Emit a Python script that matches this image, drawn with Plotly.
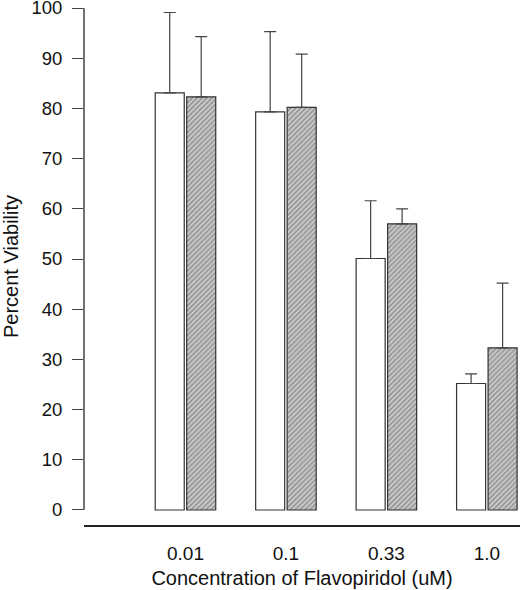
import plotly.graph_objects as go

# concentrations of flavopiridol (uM)
concentrations = ['0.01', '0.1', '0.33', '1.0']
positions = [0, 1, 2, 3]

# open bars
open_viability = [83.1, 79.3, 50.1, 25.2]
open_err = [16.0, 16.0, 11.5, 1.9]

# hatched bars
hatched_viability = [82.3, 80.2, 57.0, 32.3]
hatched_err = [12.0, 10.6, 3.0, 12.9]

y_ticks = [0, 10, 20, 30, 40, 50, 60, 70, 80, 90, 100]

edge = '#333333'
font_family = 'Liberation Sans, Arial, sans-serif'

fig = go.Figure()

fig.add_trace(go.Bar(
    x=positions,
    y=open_viability,
    marker=dict(color='white', line=dict(color=edge, width=1.2)),
    error_y=dict(type='data', symmetric=False, array=open_err,
                 arrayminus=[0] * len(open_err),
                 color='#444444', thickness=1.2, width=6),
    showlegend=False,
))

fig.add_trace(go.Bar(
    x=positions,
    y=hatched_viability,
    marker=dict(color='#cccccc', line=dict(color=edge, width=1.2),
                pattern=dict(shape='/', fgcolor='#555555', bgcolor='#cccccc',
                             size=3.5, solidity=0.45)),
    error_y=dict(type='data', symmetric=False, array=hatched_err,
                 arrayminus=[0] * len(hatched_err),
                 color='#444444', thickness=1.2, width=6),
    showlegend=False,
))

# y axis line only runs from 0 to 100
fig.add_shape(type='line', xref='paper', yref='y', x0=0, x1=0, y0=0, y1=100,
              line=dict(color='#444444', width=1.5))

fig.update_layout(
    width=520,
    height=590,
    margin=dict(l=84, r=0, t=8, b=65),
    template='plotly_white',
    plot_bgcolor='white',
    paper_bgcolor='white',
    font=dict(family=font_family, size=16.5, color='#111111'),
    barmode='group',
    bargap=0.373,
    bargroupgap=0.078,
    xaxis=dict(
        range=[-1.01, 3.33],
        tickvals=positions,
        ticktext=concentrations,
        tickfont=dict(family=font_family, size=19),
        showgrid=False,
        zeroline=False,
        showline=True,
        linecolor='#222222',
        linewidth=2,
        ticks='',
        ticklabelstandoff=10,
        automargin=False,
        title=dict(text='Concentration of Flavopiridol (uM)', standoff=8),
    ),
    yaxis=dict(
        range=[-2.99, 100],
        tickvals=y_ticks,
        tickfont=dict(family=font_family, size=18.5),
        ticklabeloverflow='allow',
        showgrid=False,
        zeroline=False,
        showline=False,
        ticks='outside',
        ticklen=11,
        tickwidth=1,
        tickcolor='#444444',
        ticklabelstandoff=6,
        automargin=False,
        title=dict(text='Percent Viability', standoff=17),
    ),
)

# page body has a default margin; drop it so the figure fills the window
fig.write_html('out.html', config={'displayModeBar': False},
               post_script="document.body.style.margin='0';")
